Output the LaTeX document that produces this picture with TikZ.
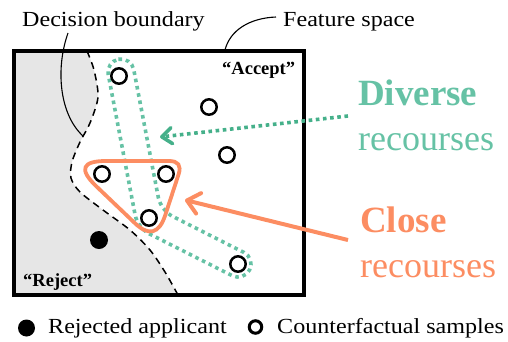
\documentclass[tikz,border=0pt]{standalone}
\usepackage{fontspec}
\setmainfont{Liberation Serif}
\newfontfamily\labfont{Liberation Serif}[FakeStretch=1.12]
\usetikzlibrary{arrows.meta}
\definecolor{divgreen}{HTML}{66C2A5}
\definecolor{arrgreen}{HTML}{45B08A}
\definecolor{closeor}{HTML}{FC8D62}
\definecolor{rejgray}{HTML}{E6E6E6}
\begin{document}
\begin{tikzpicture}[x=1pt,y=-1pt,
  lbl/.style={inner sep=0pt, anchor=base west, font=\labfont\fontsize{21.5}{24}\selectfont},
  regionlbl/.style={inner sep=0pt, anchor=base west, font=\bfseries\fontsize{18.5}{20}\selectfont},
  bigb/.style={inner sep=0pt, anchor=base west, font=\bfseries\fontsize{37}{40}\selectfont},
  bigr/.style={inner sep=0pt, anchor=base west, font=\fontsize{36}{40}\selectfont},
  cf/.style={circle, draw=black, fill=white, line width=2.5pt, minimum size=15.4pt, inner sep=0pt},
  rej/.style={circle, fill=black, minimum size=18pt, inner sep=0pt},
  leader/.style={line width=1.1pt},
  boundary/.style={line width=1.5pt, dash pattern=on 7pt off 5pt},
  divline/.style={divgreen, line width=3.6pt, dash pattern=on 3.6pt off 3.8pt},
  closeline/.style={closeor, line width=3.8pt, line join=round}]
\useasboundingbox (0,0) rectangle (508,341);
% rejected region
\fill[rejgray] (14,51) -- plot[smooth] coordinates {(87,51) (94,70) (98,97) (90,123) (80,142) (72,162) (71,178) (80,192) (103,210) (130,230) (150,250) (165,272) (178,295)} -- (14,295) -- cycle;
\draw[boundary] plot[smooth] coordinates {(87,51) (94,70) (98,97) (90,123) (80,142) (72,162) (71,178) (80,192) (103,210) (130,230) (150,250) (165,272) (178,295)};
% feature space box
\draw[line width=4pt] (14,51) rectangle (304,295);
% labels with leaders
\node[lbl] (db) at (22,26) {Decision boundary};
\node[lbl] (fs) at (283,26) {Feature space};
\coordinate (dbstart) at (68,33);
\coordinate (dbend) at (83,136);
\coordinate (fsstart) at (276,17);
\coordinate (fsend) at (225,50);
\draw[leader] (dbstart) .. controls (55,70) and (60,115) .. (dbend);
\draw[leader] (fsstart) .. controls (250,18) and (230,30) .. (fsend);
\node[regionlbl] (acc) at (222,74) {“Accept”};
\node[regionlbl] (rjt) at (23,286) {“Reject”};
% diverse outline
\draw[divline, rounded corners=13pt] (105.8,61.7) -- (131.3,56.8) -- (160.8,210.4) -- (255.5,258.3) -- (243.7,281.5) -- (137.6,227.9) -- cycle;
% close outline
\draw[closeline] (106,161) -- (169,161) .. controls (178.3,161) and (181.5,165.4) .. (178.6,174.3) -- (165.3,215) .. controls (159.1,234) and (148.8,236.6) .. (134.4,222.7) -- (96,186) .. controls (78.7,169.3) and (82,161) .. (106,161) -- cycle;
% samples
\node[cf] (s1) at (119,76) {};
\node[cf] (s2) at (209,107) {};
\node[cf] (s3) at (227,155) {};
\node[cf] (s4) at (102,174) {};
\node[cf] (s5) at (166,174) {};
\node[cf] (s6) at (149,218) {};
\node[cf] (s7) at (238,264) {};
\node[rej] (ra) at (99,240) {};
% arrows
\coordinate (gs) at (348,116);
\coordinate (gt) at (160,137);
\coordinate (os) at (348,240);
\coordinate (ot) at (185,200);
\draw[arrgreen, line width=3.6pt, dash pattern=on 3.6pt off 3.6pt, -{Straight Barb[length=10pt,width=16pt,round]}] (gs) -- (gt);
\draw[closeor, line width=4pt, -{Straight Barb[length=12pt,width=21pt,round]}] (os) -- (ot);
% big labels
\node[bigb, text=divgreen] (dv) at (358,105) {Diverse};
\node[bigr, text=divgreen] (dvr) at (358,150) {recourses};
\node[bigb, text=closeor] (cl) at (360,232) {Close};
\node[bigr, text=closeor] (clr) at (360,277) {recourses};
% legend
\node[rej, minimum size=17pt] (lg1) at (26.5,328) {};
\node[lbl] (lt1) at (48,333) {Rejected applicant};
\node[cf, line width=3pt, minimum size=12.5pt] (lg2) at (255.5,327) {};
\node[lbl] (lt2) at (277,333) {Counterfactual samples};
\end{tikzpicture}
\end{document}
